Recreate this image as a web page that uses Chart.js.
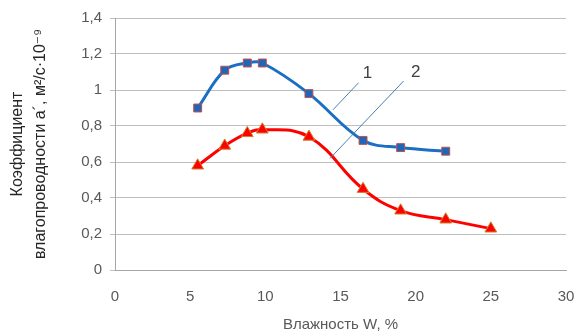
<!DOCTYPE html>
<html>
<head>
<meta charset="utf-8">
<script src="https://cdn.jsdelivr.net/npm/chart.js@4/dist/chart.umd.min.js"></script>
<style>
  html, body { margin: 0; padding: 0; background: #fff; }
  #wrap { width: 576px; height: 336px; }
</style>
</head>
<body>
<div id="wrap"><canvas id="chart" width="576" height="336"></canvas></div>
<script>
// curve 1 (blue squares) and curve 2 (red triangles)
const moisture1 = [5.5, 7.3, 8.8, 9.8, 12.9, 16.5, 19.0, 22.0];
const coef1 = [0.90, 1.11, 1.15, 1.15, 0.98, 0.72, 0.68, 0.66];
const moisture2 = [5.5, 7.3, 8.8, 9.8, 12.9, 16.5, 19.0, 22.0, 25.0];
const coef2 = [0.58, 0.69, 0.76, 0.78, 0.74, 0.45, 0.33, 0.28, 0.23];

const xTicks = [0, 5, 10, 15, 20, 25, 30];
const yTicks = [0, 0.2, 0.4, 0.6, 0.8, 1, 1.2, 1.4];

// callout labels "1" and "2" with their leader lines (data coords)
const callouts = [
  { text: '1', label: [16.8, 1.09], from: [16.2, 1.04], to: [14.5, 0.89] },
  { text: '2', label: [20.0, 1.10], from: [19.2, 1.05], to: [14.3, 0.62] }
];

const fontFamily = "'Liberation Sans', 'DejaVu Sans', sans-serif";
const textColor = '#595959';

function toPoints(xs, ys) {
  return xs.map((x, i) => ({ x: x, y: ys[i] }));
}

const calloutPlugin = {
  id: 'callouts',
  afterDatasetsDraw(chart) {
    const ctx = chart.ctx;
    const xs = chart.scales.x, ys = chart.scales.y;
    ctx.save();
    callouts.forEach(c => {
      ctx.strokeStyle = '#4a7ebb';
      ctx.lineWidth = 1;
      ctx.beginPath();
      ctx.moveTo(xs.getPixelForValue(c.from[0]), ys.getPixelForValue(c.from[1]));
      ctx.lineTo(xs.getPixelForValue(c.to[0]), ys.getPixelForValue(c.to[1]));
      ctx.stroke();
      ctx.fillStyle = '#404040';
      ctx.font = '17px ' + fontFamily;
      ctx.textAlign = 'center';
      ctx.textBaseline = 'middle';
      ctx.fillText(c.text, xs.getPixelForValue(c.label[0]), ys.getPixelForValue(c.label[1]));
    });
    ctx.restore();
  }
};

const ctx = document.getElementById('chart').getContext('2d');
new Chart(ctx, {
  type: 'scatter',
  data: {
    datasets: [
      {
        label: '1',
        data: toPoints(moisture1, coef1),
        showLine: true,
        tension: 0.36,
        borderColor: '#1a6fc4',
        borderWidth: 3,
        pointStyle: 'rect',
        pointRadius: 5.6,
        pointBackgroundColor: '#1f66b8',
        pointBorderColor: '#c0504d',
        pointBorderWidth: 1
      },
      {
        label: '2',
        data: toPoints(moisture2, coef2),
        showLine: true,
        tension: 0.42,
        borderColor: '#ff0000',
        borderWidth: 3,
        pointStyle: 'triangle',
        pointRadius: 6.8,
        pointBackgroundColor: '#ff0000',
        pointBorderColor: '#d0802a',
        pointBorderWidth: 1
      }
    ]
  },
  options: {
    responsive: false,
    animation: false,
    layout: { padding: { left: 7, right: 10, top: 18, bottom: 0 } },
    plugins: {
      legend: { display: false },
      tooltip: { enabled: false }
    },
    scales: {
      x: {
        min: 0,
        max: 30,
        afterBuildTicks: axis => { axis.ticks = xTicks.map(v => ({ value: v })); },
        afterFit: axis => { axis.height = 66; axis.paddingLeft = 0; axis.paddingRight = 0; },
        grid: { display: false, drawTicks: false },
        border: { display: true, color: '#a6a6a6', width: 1 },
        ticks: {
          color: textColor,
          font: { family: fontFamily, size: 15 },
          padding: 18,
          maxRotation: 0
        },
        title: {
          display: true,
          text: 'Влажность W, %',
          color: textColor,
          font: { family: fontFamily, size: 15 },
          padding: { top: 0, bottom: 2 }
        }
      },
      y: {
        min: 0,
        max: 1.4,
        afterBuildTicks: axis => { axis.ticks = yTicks.map(v => ({ value: v })); },
        afterFit: axis => { axis.width = 108; },
        grid: { color: '#bfbfbf', lineWidth: 1, tickLength: 5 },
        border: { display: true, color: '#a6a6a6', width: 1 },
        ticks: {
          color: textColor,
          font: { family: fontFamily, size: 15 },
          padding: 8,
          callback: v => String(v).replace('.', ',')
        },
        title: {
          display: true,
          text: ['Коэффициент', 'влагопроводности а´, м²/с·10⁻⁹'],
          color: '#262626',
          font: { family: fontFamily, size: 16, lineHeight: 1.38 },
          padding: { top: 0, bottom: 0 }
        }
      }
    }
  },
  plugins: [calloutPlugin]
});
</script>
</body>
</html>
